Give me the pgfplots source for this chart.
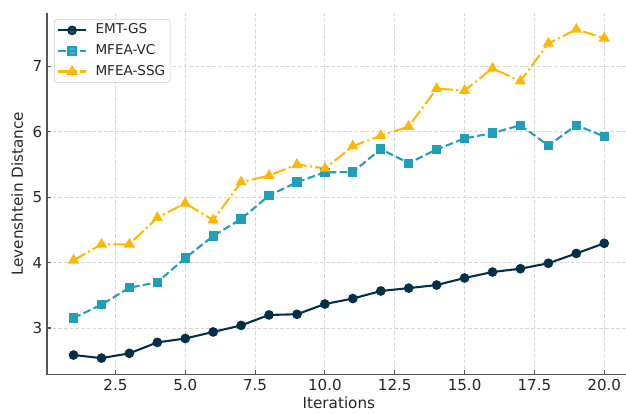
\documentclass[border=0pt]{standalone}
\usepackage{fontspec}
\setmainfont{DejaVu Sans}
\usepackage{pgfplots}
\usepackage{pgfplotstable}
\pgfplotsset{compat=1.18}
\definecolor{cGS}{HTML}{023047}
\definecolor{cVC}{HTML}{219EBC}
\definecolor{cSSG}{HTML}{FFB703}
\definecolor{spine}{HTML}{555555}
\definecolor{gridc}{HTML}{D6D6D6}
\definecolor{txt}{HTML}{262626}

\pgfplotstableread{
x GS VC SSG
1 2.587 3.153 4.035
2 2.540 3.357 4.280
3 2.613 3.616 4.280
4 2.780 3.700 4.686
5 2.840 4.070 4.907
6 2.940 4.407 4.650
7 3.040 4.667 5.230
8 3.200 5.025 5.330
9 3.210 5.230 5.500
10 3.367 5.380 5.440
11 3.450 5.385 5.780
12 3.566 5.736 5.940
13 3.610 5.520 6.080
14 3.657 5.730 6.660
15 3.765 5.898 6.630
16 3.856 5.980 6.970
17 3.907 6.100 6.775
18 3.990 5.790 7.350
19 4.140 6.100 7.565
20 4.295 5.930 7.430
}\datatable

\begin{document}
\begin{tikzpicture}
\begin{axis}[name=ax,
  scale only axis, width=420.3bp, height=260.3bp,
  xmin=0.05, xmax=20.95, ymin=2.289, ymax=7.816,
  axis x line*=bottom, axis y line*=left,
  axis line style={draw=spine, line width=1.1bp},
  xtick={2.5,5,7.5,10,12.5,15,17.5,20}, ytick={3,4,5,6,7},
  tick align=inside, major tick length=3bp,
  tick style={draw=spine, line width=0.8bp},
  /pgf/number format/assume math mode=true,
  xticklabel style={/pgf/number format/fixed, /pgf/number format/fixed zerofill, /pgf/number format/precision=1},
  ticklabel style={font=\fontsize{10.9}{13}\selectfont, text=txt},
  label style={font=\fontsize{11}{13}\selectfont, text=txt},
  xlabel={Iterations}, ylabel={Levenshtein Distance},
  xlabel style={yshift=2.2bp},
  grid=major,
  grid style={draw=gridc, line width=0.6bp, dash pattern=on 2.5bp off 1.6bp},
  legend cell align=left,
  legend style={at={(0.012,0.983)}, anchor=north west,
    draw=gray!40, rounded corners=2bp, fill=white, fill opacity=0.8, text opacity=1,
    font=\fontsize{9.8}{11}\selectfont, text=txt,
    inner xsep=2bp, inner ysep=1.8bp, row sep=2.6bp, column sep=4.5bp,
    nodes={inner sep=1.5bp, text height=7.2bp, text depth=2.0bp}},
  legend image code/.code={\draw[mark repeat=2,mark phase=2,#1] plot coordinates {(0bp,0bp) (10.1bp,0bp) (20.2bp,0bp)};},
]
\addplot[cGS, line width=1.5bp, mark=*, mark size=2.7bp, mark options={solid, fill=cGS}] table[x=x, y=GS] {\datatable};
\addlegendentry{EMT-GS}
\addplot[cVC, line width=1.5bp, dash pattern=on 5.55bp off 2.4bp, mark=square*, mark size=2.6bp, mark options={solid, fill=cVC}] table[x=x, y=VC] {\datatable};
\addlegendentry{MFEA-VC}
\addplot[cSSG, line width=1.5bp, dash pattern=on 9.6bp off 2.4bp on 1.5bp off 2.4bp, mark=triangle*, mark size=3.2bp, mark options={solid, fill=cSSG}] table[x=x, y=SSG] {\datatable};
\addlegendentry{MFEA-SSG}
\end{axis}
\pgfresetboundingbox
\path ([shift={(-33.84bp,-28.08bp)}]ax.south west) rectangle ([shift={(416.88bp,9.36bp)}]ax.north west);
\end{tikzpicture}
\end{document}
